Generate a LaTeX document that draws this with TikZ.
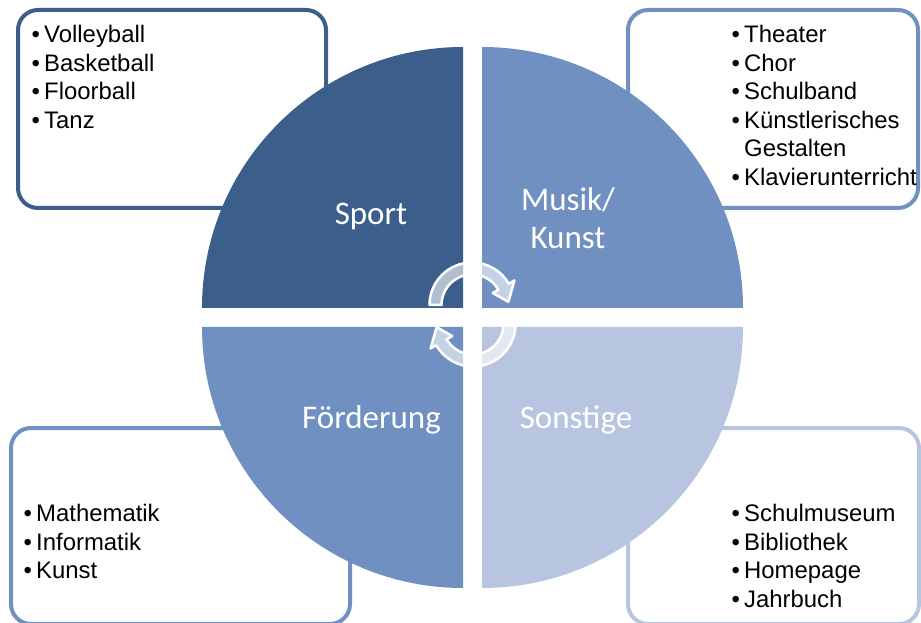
\documentclass[tikz,border=0pt]{standalone}
\usepackage{fontspec}
\setmainfont{Liberation Sans}
\newfontfamily\segfont{Carlito}
\usetikzlibrary{positioning}

\definecolor{darkseg}{HTML}{3B5E8B}
\definecolor{midseg}{HTML}{7090C2}
\definecolor{paleseg}{HTML}{B8C5E0}

\newcommand{\itm}[1]{\makebox[12.5pt][l]{\textbullet}#1}

\begin{document}
\begin{tikzpicture}[
  x=1pt, y=1pt,
  listbox/.style={draw=#1, line width=4pt, rounded corners=20pt, fill=white,
                  inner sep=0pt, outer sep=0pt},
  items/.style={font=\fontsize{23.9}{28.6}\selectfont, align=left,
                inner sep=0pt, anchor=north west},
  seglabel/.style={font=\segfont\fontsize{33}{38}\selectfont, text=white,
                   align=center, inner sep=0pt},
  turn/.style={draw=white, line width=2.5pt, fill=white, fill opacity=0.6,
               line join=round}
]
\useasboundingbox (0,0) rectangle (921,622);
\clip (0,0) rectangle (921,622);

% list boxes behind the circle
\node[listbox=darkseg, minimum width=308pt, minimum height=198pt]
  (sportbox) at (172,513) {};
\node[listbox=midseg, minimum width=290pt, minimum height=198pt]
  (musikbox) at (773,513) {};
\node[listbox=midseg, minimum width=339pt, minimum height=196pt]
  (foerderbox) at (180.5,96) {};
\node[listbox=paleseg, minimum width=291pt, minimum height=196pt]
  (sonstbox) at (773.5,96) {};

% four quarters of the circle
\fill[darkseg] (463,314) -- ++(180:261) arc[start angle=180, end angle=90, radius=261] -- cycle;
\fill[midseg]  (482,314) -- ++(90:261) arc[start angle=90, end angle=0, radius=261] -- cycle;
\fill[midseg]  (463,295) -- ++(270:261) arc[start angle=270, end angle=180, radius=261] -- cycle;
\fill[paleseg] (482,295) -- ++(0:261) arc[start angle=360, end angle=270, radius=261] -- cycle;

% quarter labels
\node[seglabel, anchor=base] (sport) at (371,397) {Sport};
\node[seglabel] (musik) at (568,404) {Musik/\\Kunst};
\node[seglabel, anchor=base] (foerderung) at (371.5,194) {Förderung};
\node[seglabel, anchor=base] (sonstige) at (576,194) {Sonstige};

% lists
\node[items, below right=15pt and 13.5pt of sportbox.north west] (sportlist)
  {\itm{Volleyball}\\\itm{Basketball}\\\itm{Floorball}\\\itm{Tanz}};
\node[items, below right=15pt and 103.5pt of musikbox.north west] (musiklist)
  {\itm{Theater}\\\itm{Chor}\\\itm{Schulband}\\\itm{Künstlerisches}\\
   \hphantom{\itm{}}Gestalten\\\itm{Klavierunterricht}};
\node[items, below right=76pt and 12.5pt of foerderbox.north west] (foerderlist)
  {\itm{Mathematik}\\\itm{Informatik}\\\itm{Kunst}};
\node[items, below right=76pt and 103.5pt of sonstbox.north west] (sonstlist)
  {\itm{Schulmuseum}\\\itm{Bibliothek}\\\itm{Homepage}\\\itm{Jahrbuch}};

% turning arrows in the middle
\begin{scope}[shift={(472,317)}]
  \draw[turn] (180:30.5) -- (180:42.5) arc[start angle=180, end angle=30, radius=42.5]
    -- (30:49) -- (5:36.5) -- (30:24) -- (30:30.5)
    arc[start angle=30, end angle=180, radius=30.5] -- cycle;
\end{scope}
\begin{scope}[shift={(473,298)}, rotate=180]
  \draw[turn] (180:30.5) -- (180:42.5) arc[start angle=180, end angle=30, radius=42.5]
    -- (30:49) -- (5:36.5) -- (30:24) -- (30:30.5)
    arc[start angle=30, end angle=180, radius=30.5] -- cycle;
\end{scope}
\end{tikzpicture}
\end{document}
